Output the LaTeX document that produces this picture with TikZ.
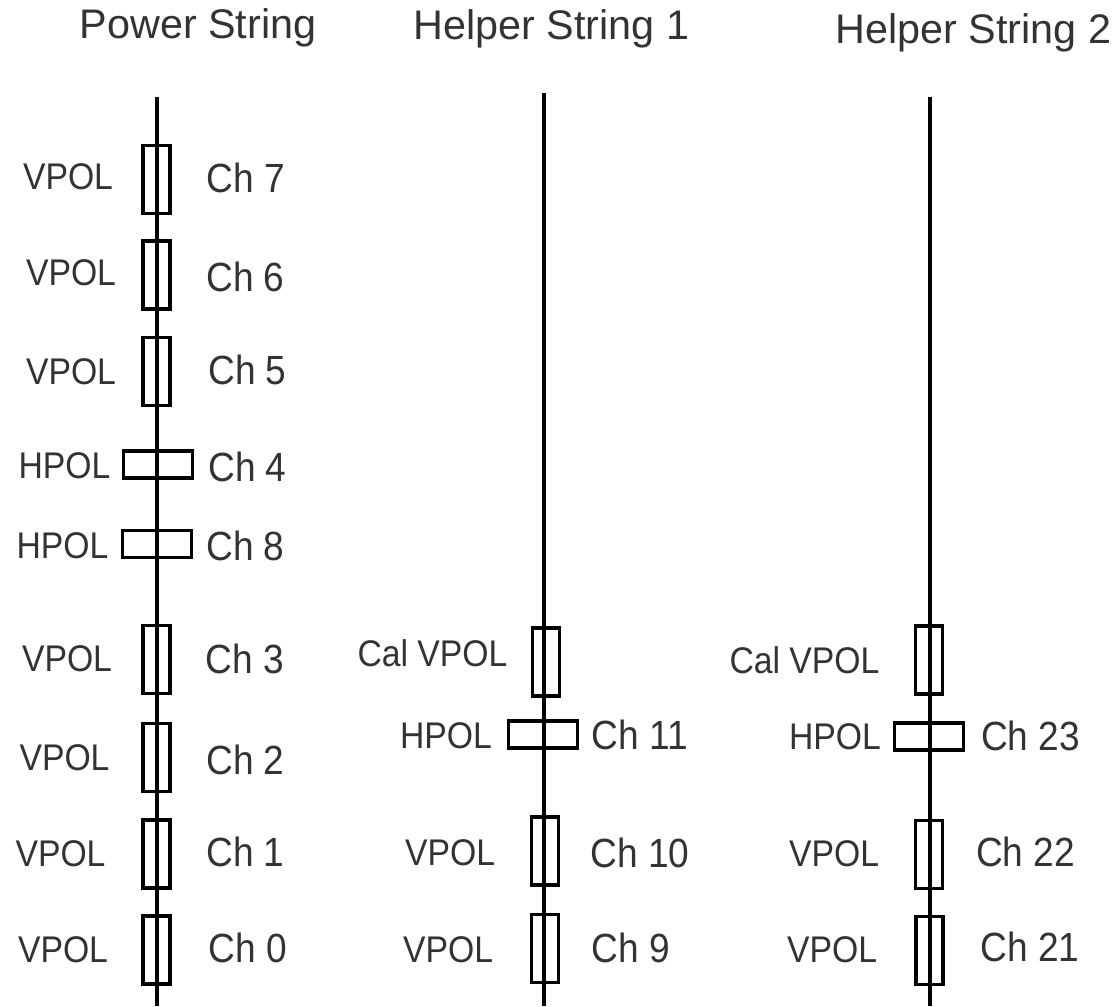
\documentclass[tikz,border=0pt]{standalone}
\usepackage{fontspec}
\setmainfont{Liberation Sans}
\definecolor{txt}{HTML}{333333}
\newcommand{\tall}[1]{\scalebox{1}[1.1]{#1}}
\begin{document}
\begin{tikzpicture}[x=0.75pt,y=-0.75pt,
  vbox/.style={draw=black,line width=2.6pt,minimum width=27*0.75pt,minimum height=68*0.75pt,inner sep=0pt},
  hbox/.style={draw=black,line width=2.6pt,minimum width=69*0.75pt,minimum height=27*0.75pt,inner sep=0pt},
  pol/.style={text=txt,inner sep=0pt,font=\fontsize{25.3pt}{30pt}\selectfont},
  chan/.style={text=txt,inner sep=0pt,font=\fontsize{27.8pt}{33pt}\selectfont},
  ttl/.style={text=txt,inner sep=0pt,anchor=base,font=\fontsize{31pt}{37pt}\selectfont},
  wire/.style={line width=2.3pt,draw=black}]
\useasboundingbox (0,0) rectangle (1120,1006);
% titles
\node[ttl] (t1) at (198,39) {Power String};
\node[ttl] (t2) at (551.5,40) {Helper String 1};
\node[ttl] (t3) at (973.5,44) {Helper String 2};
% strings
\coordinate (ptop) at (157,97);
\coordinate (pbot) at (157,1006);
\coordinate (h1top) at (544,93);
\coordinate (h1bot) at (544,1006);
\coordinate (h2top) at (930,97);
\coordinate (h2bot) at (930,1006);
\draw[wire] (ptop) -- (pbot);
\draw[wire] (h1top) -- (h1bot);
\draw[wire] (h2top) -- (h2bot);
% power string antennas
\node[vbox] (b7) at (156.5,179.5) {};
\node[vbox] (b6) at (156.5,275) {};
\node[vbox] (b5) at (156.5,371.5) {};
\node[hbox] (b4) at (158,464.5) {};
\node[hbox] (b8) at (157,544) {};
\node[vbox] (b3) at (156.5,659.5) {};
\node[vbox] (b2) at (156.5,757.5) {};
\node[vbox] (b1) at (156.5,854) {};
\node[vbox] (b0) at (156.5,950) {};
\node[pol] (l7) at (68,177) {\tall{VPOL}};
\node[chan] (c7) at (246,178) {\tall{Ch 7}};
\node[pol] (l6) at (71,273) {\tall{VPOL}};
\node[chan] (c6) at (245.5,276.5) {\tall{Ch 6}};
\node[pol] (l5) at (71,371.5) {\tall{VPOL}};
\node[chan] (c5) at (247.5,369.5) {\tall{Ch 5}};
\node[pol] (l4) at (64.5,466) {\tall{HPOL}};
\node[chan] (c4) at (247.5,467) {\tall{Ch 4}};
\node[pol] (l8) at (62.5,545.5) {\tall{HPOL}};
\node[chan] (c8) at (245.5,546) {\tall{Ch 8}};
\node[pol] (l3) at (67,659) {\tall{VPOL}};
\node[chan] (c3) at (245,659) {\tall{Ch 3}};
\node[pol] (l2) at (64.5,757.5) {\tall{VPOL}};
\node[chan] (c2) at (245.5,760) {\tall{Ch 2}};
\node[pol] (l1) at (60.5,854) {\tall{VPOL}};
\node[chan] (c1) at (245.5,851.5) {\tall{Ch 1}};
\node[pol] (l0) at (63,950) {\tall{VPOL}};
\node[chan] (c0) at (248,948) {\tall{Ch 0}};
% helper string 1
\node[vbox] (hc1) at (546,662) {};
\node[hbox] (b11) at (543,734.5) {};
\node[vbox] (b10) at (545,851) {};
\node[vbox] (b9) at (545,948.5) {};
\node[pol] (lc1) at (432.5,653.5) {\tall{Cal VPOL}};
\node[pol] (l11) at (446,735.5) {\tall{HPOL}};
\node[chan] (c11) at (640,735) {\tall{Ch 11}};
\node[pol] (l10) at (450,853) {\tall{VPOL}};
\node[chan] (c10) at (640,853) {\tall{Ch 10}};
\node[pol] (l9) at (448,949.5) {\tall{VPOL}};
\node[chan] (c9) at (631,948) {\tall{Ch 9}};
% helper string 2
\node[vbox] (hc2) at (929,660) {};
\node[hbox] (b23) at (929,736.5) {};
\node[vbox] (b22) at (929,854.5) {};
\node[vbox] (b21) at (929.5,950.5) {};
\node[pol] (lc2) at (804.5,660) {\tall{Cal VPOL}};
\node[pol] (l23) at (835,737) {\tall{HPOL}};
\node[chan] (c23) at (1030.5,736) {\tall{Ch 23}};
\node[pol] (l22) at (834,854) {\tall{VPOL}};
\node[chan] (c22) at (1025.5,851.5) {\tall{Ch 22}};
\node[pol] (l21) at (832,949.5) {\tall{VPOL}};
\node[chan] (c21) at (1030,947) {\tall{Ch 21}};
\end{tikzpicture}
\end{document}
